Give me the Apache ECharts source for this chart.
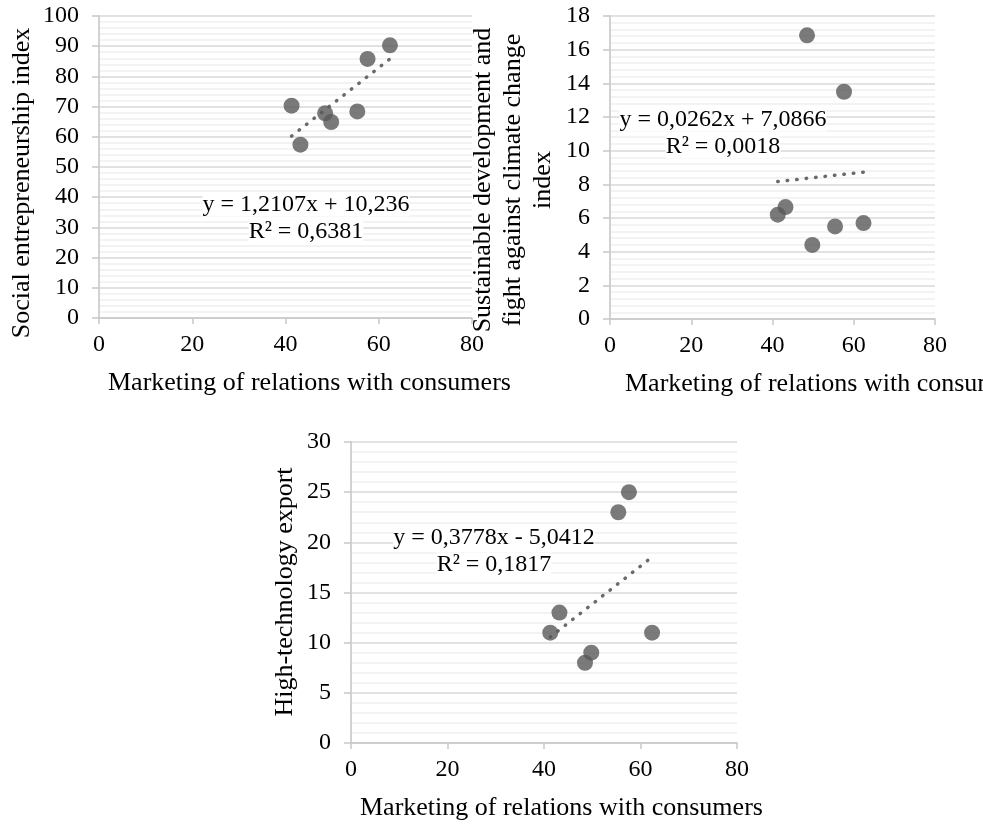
<!DOCTYPE html>
<html>
<head>
<meta charset="utf-8">
<title>Marketing of relations with consumers</title>
<script src="https://cdn.jsdelivr.net/npm/echarts@6.0.0/dist/echarts.min.js"></script>
<style>
  html, body { margin: 0; padding: 0; background: #fff; }
  #main { width: 983px; height: 824px; }
</style>
</head>
<body>
<div id="main"></div>
<script>
// x = marketing of relations with consumers (same countries in all three panels)
const marketingX = [41.3, 43.2, 48.5, 49.8, 55.4, 57.6, 62.4]
const socialEntrepreneurship = [70.3, 57.4, 67.8, 64.9, 68.4, 85.8, 90.3]
const sustainableDev = [6.2, 6.65, 16.85, 4.4, 5.5, 13.5, 5.7]
const highTechExport = [11, 13, 8, 9, 23, 25, 11]

// trendline coefficients as printed on the chart [slope, intercept]
const trend1 = [1.2107, 10.236]
const trend2 = [0.0262, 7.0866]
const trend3 = [0.3778, -5.0412]

const eq1 = ['y = 1,2107x + 10,236', 'R² = 0,6381']
const eq2 = ['y = 0,0262x + 7,0866', 'R² = 0,0018']
const eq3 = ['y = 0,3778x - 5,0412', 'R² = 0,1817']

const xTitle = 'Marketing of relations with consumers'
const yTitle1 = 'Social entrepreneurship index'
const yTitle2 = ['Sustainable development and', 'fight against climate change', 'index']
const yTitle3 = 'High-technology export'

const FONT = 'Liberation Serif'
const dotColor = '#595959'

function points (ys) {
  return marketingX.map((x, i) => [x, ys[i]])
}

function trendLine (coef) {
  const x0 = Math.min(...marketingX)
  const x1 = Math.max(...marketingX)
  return [[x0, coef[0] * x0 + coef[1]], [x1, coef[0] * x1 + coef[1]]]
}

function xAxisFor (gridIndex) {
  return {
    type: 'value',
    gridIndex: gridIndex,
    min: 0,
    max: 80,
    interval: 20,
    axisLine: { show: true, onZero: false, lineStyle: { color: '#c8c8c8', width: 1.5 } },
    axisTick: { show: true, length: 6, lineStyle: { color: '#c8c8c8', width: 1.5 } },
    axisLabel: { color: '#000', fontFamily: FONT, fontSize: 24, margin: 15 },
    splitLine: { show: false }
  }
}

function yAxisFor (gridIndex, max, interval) {
  return {
    type: 'value',
    gridIndex: gridIndex,
    min: 0,
    max: max,
    interval: interval,
    axisLine: { show: true, onZero: false, lineStyle: { color: '#c8c8c8', width: 1.5 } },
    axisTick: { show: true, length: 7, lineStyle: { color: '#c8c8c8', width: 1.5 } },
    axisLabel: { color: '#000', fontFamily: FONT, fontSize: 24, margin: 20 },
    splitLine: { show: true, lineStyle: { color: '#d9d9d9', width: 1.5 } },
    minorTick: { show: false, splitNumber: 5 },
    minorSplitLine: { show: true, lineStyle: { color: '#efefef', width: 1.5 } }
  }
}

// right-hand border of each plot area
function rightEdge (gridIndex) {
  return {
    type: 'value',
    gridIndex: gridIndex,
    position: 'right',
    min: 0,
    max: 1,
    axisLine: { show: true, lineStyle: { color: '#d0d0d0', width: 1.5 } },
    axisTick: { show: false },
    axisLabel: { show: false },
    splitLine: { show: false }
  }
}

function scatter (idx, ys) {
  return {
    type: 'scatter',
    xAxisIndex: idx,
    yAxisIndex: idx,
    data: points(ys),
    symbol: 'circle',
    symbolSize: 16,
    itemStyle: { color: dotColor },
    z: 3
  }
}

function trend (idx, coef) {
  return {
    type: 'line',
    xAxisIndex: idx,
    yAxisIndex: idx,
    data: trendLine(coef),
    symbol: 'none',
    lineStyle: { color: '#6a6a6a', width: 3.5, type: [0.5, 9], cap: 'round' },
    z: 2
  }
}

function text (x, y, str, opts) {
  return Object.assign({
    type: 'text',
    x: x,
    y: y,
    z: 50,
    silent: true,
    style: {
      text: str,
      fill: '#000',
      fontFamily: FONT,
      fontSize: (opts && opts.size) || 26,
      lineHeight: (opts && opts.lh) || 30,
      textAlign: (opts && opts.align) || 'center',
      textVerticalAlign: 'middle'
    }
  }, opts && opts.rotation ? { rotation: opts.rotation } : {})
}

// trendline label: each line sits on its own white box, hiding the gridlines
function equation (x, y, lines) {
  return {
    type: 'text',
    x: x,
    y: y,
    z: 50,
    silent: true,
    style: {
      text: lines.map(l => '{a|' + l + '}').join('\n'),
      textAlign: 'center',
      textVerticalAlign: 'middle',
      fill: '#000',
      fontFamily: FONT,
      fontSize: 24,
      rich: {
        a: {
          fill: '#000',
          fontFamily: FONT,
          fontSize: 24,
          lineHeight: 27,
          backgroundColor: '#fff'
        }
      }
    }
  }
}

const option = {
  animation: false,
  backgroundColor: '#fff',
  grid: [
    { left: 99, top: 16, width: 373, height: 302 },
    { left: 610, top: 16, width: 325, height: 303 },
    { left: 351, top: 442, width: 386, height: 301 }
  ],
  xAxis: [xAxisFor(0), xAxisFor(1), xAxisFor(2)],
  yAxis: [
    yAxisFor(0, 100, 10),
    yAxisFor(1, 18, 2),
    yAxisFor(2, 30, 5),
    rightEdge(0),
    rightEdge(1),
    rightEdge(2)
  ],
  series: [
    trend(0, trend1),
    scatter(0, socialEntrepreneurship),
    trend(1, trend2),
    scatter(1, sustainableDev),
    trend(2, trend3),
    scatter(2, highTechExport)
  ],
  graphic: [
    // axis titles
    text(22, 183, yTitle1, { rotation: Math.PI / 2 }),
    text(513, 180, yTitle2.join('\n'), { rotation: Math.PI / 2 }),
    text(285, 592, yTitle3, { rotation: Math.PI / 2 }),
    text(108, 383, xTitle, { align: 'left' }),
    text(625, 384, xTitle, { align: 'left' }),
    text(360, 808, xTitle, { align: 'left' }),
    // trendline equations
    equation(306, 218, eq1),
    equation(723, 133, eq2),
    equation(494, 551, eq3)
  ]
}

const myChart = echarts.init(document.getElementById('main'))
myChart.setOption(option)
window.addEventListener('resize', () => {
  myChart.resize()
})
</script>
</body>
</html>
